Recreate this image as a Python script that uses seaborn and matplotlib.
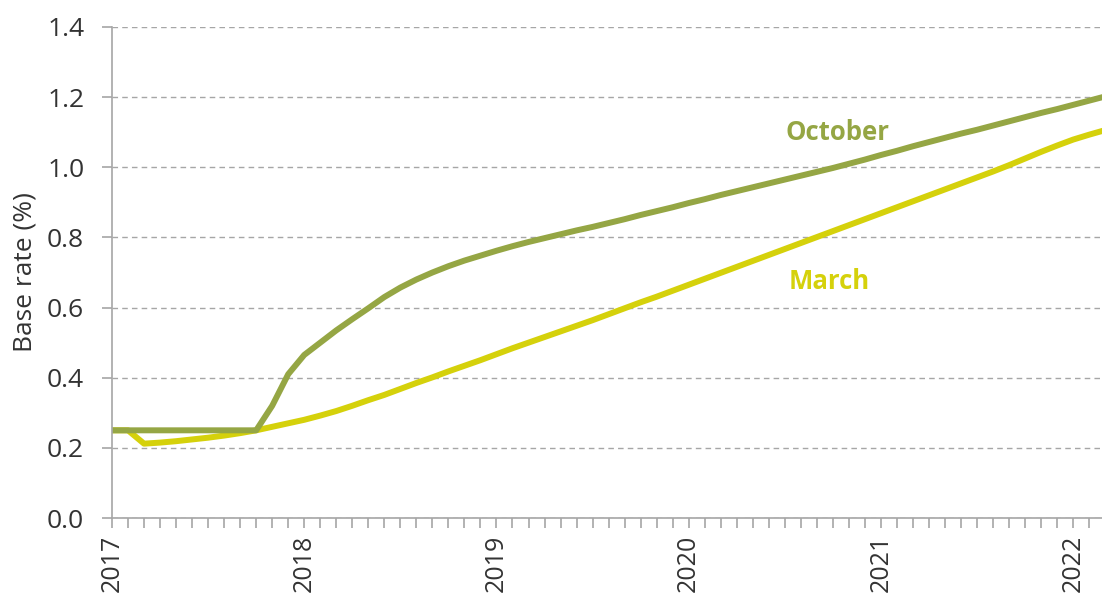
import matplotlib
matplotlib.use("Agg")
import matplotlib.pyplot as plt
from matplotlib.ticker import MultipleLocator, FixedLocator
import seaborn as sns
import pandas as pd

# months since Jan 2017
months = list(range(63))

october = [0.25, 0.25, 0.25, 0.25, 0.25, 0.25, 0.25, 0.25, 0.25, 0.25,
           0.32, 0.41, 0.465, 0.50, 0.535, 0.567, 0.598, 0.63, 0.657, 0.68,
           0.70, 0.718, 0.734, 0.748, 0.762, 0.775, 0.787, 0.798, 0.809, 0.82,
           0.83, 0.841, 0.852, 0.864, 0.875, 0.886, 0.898, 0.909, 0.921, 0.932,
           0.943, 0.954, 0.965, 0.976, 0.987, 0.998, 1.01, 1.022, 1.035, 1.047,
           1.06, 1.072, 1.084, 1.096, 1.107, 1.119, 1.131, 1.143, 1.155, 1.166,
           1.178, 1.19, 1.202]

march = [0.25, 0.25, 0.212, 0.215, 0.219, 0.224, 0.229, 0.235, 0.242, 0.25,
         0.26, 0.27, 0.28, 0.292, 0.305, 0.32, 0.336, 0.351, 0.368, 0.385,
         0.401, 0.418, 0.434, 0.45, 0.467, 0.484, 0.5, 0.516, 0.532, 0.548,
         0.564, 0.581, 0.598, 0.615, 0.631, 0.648, 0.665, 0.682, 0.699, 0.716,
         0.733, 0.75, 0.767, 0.784, 0.801, 0.818, 0.835, 0.852, 0.869, 0.886,
         0.903, 0.92, 0.937, 0.954, 0.971, 0.988, 1.006, 1.025, 1.044, 1.062,
         1.079, 1.093, 1.106]

year_labels = ["2017", "2018", "2019", "2020", "2021", "2022"]
series_names = ["March", "October"]  # October drawn on top
palette = {"October": "#95a644", "March": "#d5d10b"}

df = pd.DataFrame({
    "month": months * 2,
    "rate": october + march,
    "forecast": ["October"] * len(months) + ["March"] * len(months),
})

sns.set_style("white")
plt.rcParams["font.family"] = ["Open Sans", "DejaVu Sans"]

fig = plt.figure(figsize=(11.02, 5.94), dpi=100)
ax = fig.add_axes([112 / 1102, 1 - 518 / 594, 1 - 112 / 1102, (518 - 27) / 594])

sns.lineplot(data=df, x="month", y="rate", hue="forecast", palette=palette,
             hue_order=series_names, linewidth=4.3, legend=False, ax=ax,
             solid_capstyle="butt")

ax.set_xlim(0, 61.8)
ax.set_ylim(0, 1.4)

grey = "#a6a6a6"
text_col = "#333333"
fs = 19
ax.xaxis.set_major_locator(FixedLocator([12 * i for i in range(len(year_labels))]))
ax.set_xticklabels(year_labels, rotation=90, fontsize=18, color=text_col)
ax.xaxis.set_minor_locator(MultipleLocator(1))
ax.yaxis.set_major_locator(MultipleLocator(0.2))
ax.set_yticklabels([f"{v:.1f}" for v in ax.get_yticks()], fontsize=fs, color=text_col)
ax.tick_params(axis="both", which="both", direction="out", length=7, width=1.2,
               color=grey, bottom=True, left=True)
ax.tick_params(axis="x", which="major", pad=5)
ax.tick_params(axis="y", which="major", pad=13)

for s in ["top", "right"]:
    ax.spines[s].set_visible(False)
for s in ["left", "bottom"]:
    ax.spines[s].set_color(grey)
    ax.spines[s].set_linewidth(1.2)

ax.yaxis.grid(True, linestyle=(0, (4, 3)), color=grey, linewidth=1)
ax.xaxis.grid(False)
ax.set_axisbelow(True)

ax.set_xlabel("")
ax.set_ylabel("Base rate (%)", fontsize=fs, color=text_col, labelpad=7)

ax.text(45.3, 1.1, "October", color=palette["October"], fontsize=18.5,
        fontweight="bold", ha="center", va="center")
ax.text(44.8, 0.675, "March", color=palette["March"], fontsize=18.5,
        fontweight="bold", ha="center", va="center")

fig.savefig("out.png", dpi=100)
